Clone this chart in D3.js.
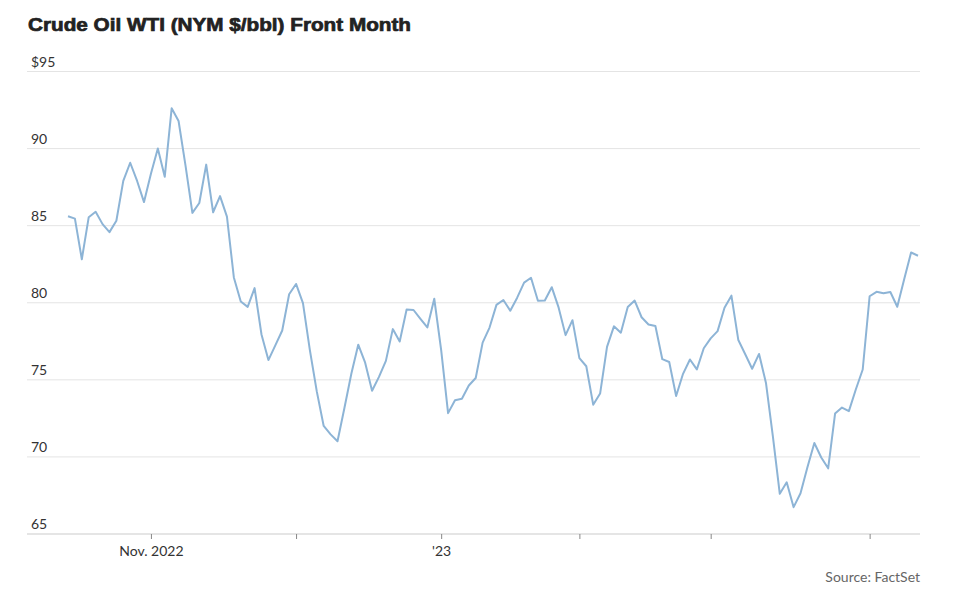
<!DOCTYPE html>
<html>
<head>
<meta charset="utf-8">
<script src="https://cdn.jsdelivr.net/npm/d3@7"></script>
<style>
  html, body { margin: 0; padding: 0; background: #fff; }
  svg { display: block; }
</style>
</head>
<body>
<svg id="chart" width="960" height="604"></svg>
<script>
// Trading days, Oct 14 2022 – Apr 13 2023
const dates = [
  "2022-10-14","2022-10-17","2022-10-18","2022-10-19","2022-10-20","2022-10-21","2022-10-24","2022-10-25","2022-10-26","2022-10-27","2022-10-28","2022-10-31",
  "2022-11-01","2022-11-02","2022-11-03","2022-11-04","2022-11-07","2022-11-08","2022-11-09","2022-11-10","2022-11-11","2022-11-14","2022-11-15","2022-11-16","2022-11-17","2022-11-18","2022-11-21","2022-11-22","2022-11-23","2022-11-25","2022-11-28","2022-11-29","2022-11-30",
  "2022-12-01","2022-12-02","2022-12-05","2022-12-06","2022-12-07","2022-12-08","2022-12-09","2022-12-12","2022-12-13","2022-12-14","2022-12-15","2022-12-16","2022-12-19","2022-12-20","2022-12-21","2022-12-22","2022-12-23","2022-12-27","2022-12-28","2022-12-29","2022-12-30",
  "2023-01-03","2023-01-04","2023-01-05","2023-01-06","2023-01-09","2023-01-10","2023-01-11","2023-01-12","2023-01-13","2023-01-17","2023-01-18","2023-01-19","2023-01-20","2023-01-23","2023-01-24","2023-01-25","2023-01-26","2023-01-27","2023-01-30","2023-01-31",
  "2023-02-01","2023-02-02","2023-02-03","2023-02-06","2023-02-07","2023-02-08","2023-02-09","2023-02-10","2023-02-13","2023-02-14","2023-02-15","2023-02-16","2023-02-17","2023-02-21","2023-02-22","2023-02-23","2023-02-24","2023-02-27","2023-02-28",
  "2023-03-01","2023-03-02","2023-03-03","2023-03-06","2023-03-07","2023-03-08","2023-03-09","2023-03-10","2023-03-13","2023-03-14","2023-03-15","2023-03-16","2023-03-17","2023-03-20","2023-03-21","2023-03-22","2023-03-23","2023-03-24","2023-03-27","2023-03-28","2023-03-29","2023-03-30","2023-03-31",
  "2023-04-03","2023-04-04","2023-04-05","2023-04-06","2023-04-10","2023-04-11","2023-04-12","2023-04-13"
];

const prices = [
  85.61,85.46,82.82,85.55,85.90,85.10,84.58,85.32,87.91,89.08,87.90,86.53,
  88.37,90.00,88.17,92.61,91.79,88.91,85.83,86.47,88.96,85.87,86.92,85.59,81.64,80.08,79.73,80.95,77.94,76.28,77.24,78.20,80.55,
  81.22,79.98,76.93,74.25,72.01,71.46,71.02,73.17,75.39,77.28,76.11,74.29,75.19,76.23,78.29,77.49,79.56,79.53,78.96,78.40,80.26,
  76.93,72.84,73.67,73.77,74.63,75.12,77.41,78.39,79.86,80.18,79.48,80.33,81.31,81.62,80.13,80.15,81.01,79.68,77.90,78.87,
  76.41,75.88,73.39,74.11,77.14,78.47,78.06,79.72,80.14,79.06,78.59,78.49,76.34,76.16,73.95,75.39,76.32,75.68,77.05,
  77.69,78.16,79.68,80.46,77.58,76.66,75.72,76.68,74.80,71.33,67.61,68.35,66.74,67.64,69.33,70.90,69.96,69.26,72.81,73.20,72.97,74.37,75.67,
  80.42,80.71,80.61,80.70,79.74,81.53,83.26,83.05
];

const xTickDates = ["2022-11-01","2022-12-01","2023-01-03","2023-02-01","2023-03-01","2023-04-03"];
const xTickLabels = ["Nov. 2022","","'23","","",""];
const yTicks = [65,70,75,80,85,90,95];
const yTickLabels = ["65","70","75","80","85","90","$95"];

const title = "Crude Oil WTI (NYM $/bbl) Front Month";
const source = "Source: FactSet";

const data = dates.map((d, i) => ({ date: d, value: prices[i] }));

const svg = d3.select("#chart");
const gridLeft = 27, gridRight = 920;

const x = d3.scalePoint().domain(dates).range([68, 918]);
const y = d3.scaleLinear().domain([65, 95]).range([534, 71.5]);

// Title
svg.append("text")
  .attr("x", 28).attr("y", 31)
  .attr("font-family", "'Liberation Sans', Arial, sans-serif")
  .attr("font-weight", "bold")
  .attr("font-size", 18.5)
  .attr("fill", "#222")
  .attr("stroke", "#222")
  .attr("stroke-width", 0.7)
  .attr("textLength", 383)
  .attr("lengthAdjust", "spacingAndGlyphs")
  .text(title);

// Gridlines + y labels
const yG = svg.append("g");
yTicks.forEach((t, i) => {
  if (t !== 65) {
    yG.append("line")
      .attr("x1", gridLeft).attr("x2", gridRight)
      .attr("y1", y(t)).attr("y2", y(t))
      .attr("stroke", "#e4e4e4").attr("stroke-width", 1);
  }
  yG.append("text")
    .attr("x", 31).attr("y", y(t) - 5)
    .attr("font-family", "Lato, sans-serif")
    .attr("font-size", 14)
    .attr("fill", "#333")
    .text(yTickLabels[i]);
});

// X axis
const xAxis = d3.axisBottom(x)
  .tickValues(xTickDates)
  .tickSize(5)
  .tickPadding(7)
  .tickFormat((d, i) => xTickLabels[i]);

const xg = svg.append("g").attr("transform", `translate(0,${y(65)})`).call(xAxis);
xg.select(".domain").remove();
xg.insert("line", ":first-child")
  .attr("x1", gridLeft).attr("x2", gridRight)
  .attr("y1", 0).attr("y2", 0)
  .attr("stroke", "#dcdcdc").attr("stroke-width", 1.5);
xg.selectAll(".tick line").attr("stroke", "#888").attr("stroke-width", 1);
xg.selectAll(".tick text")
  .attr("font-family", "Lato, sans-serif")
  .attr("font-size", 14)
  .attr("fill", "#333");

// Line
const line = d3.line()
  .x(d => x(d.date))
  .y(d => y(d.value));

svg.append("path")
  .datum(data)
  .attr("d", line)
  .attr("fill", "none")
  .attr("stroke", "#8db4d6")
  .attr("stroke-width", 2)
  .attr("stroke-linejoin", "round");

// Source
svg.append("text")
  .attr("x", 920).attr("y", 582)
  .attr("text-anchor", "end")
  .attr("font-family", "Lato, sans-serif")
  .attr("font-size", 14)
  .attr("fill", "#666")
  .text(source);
</script>
</body>
</html>
